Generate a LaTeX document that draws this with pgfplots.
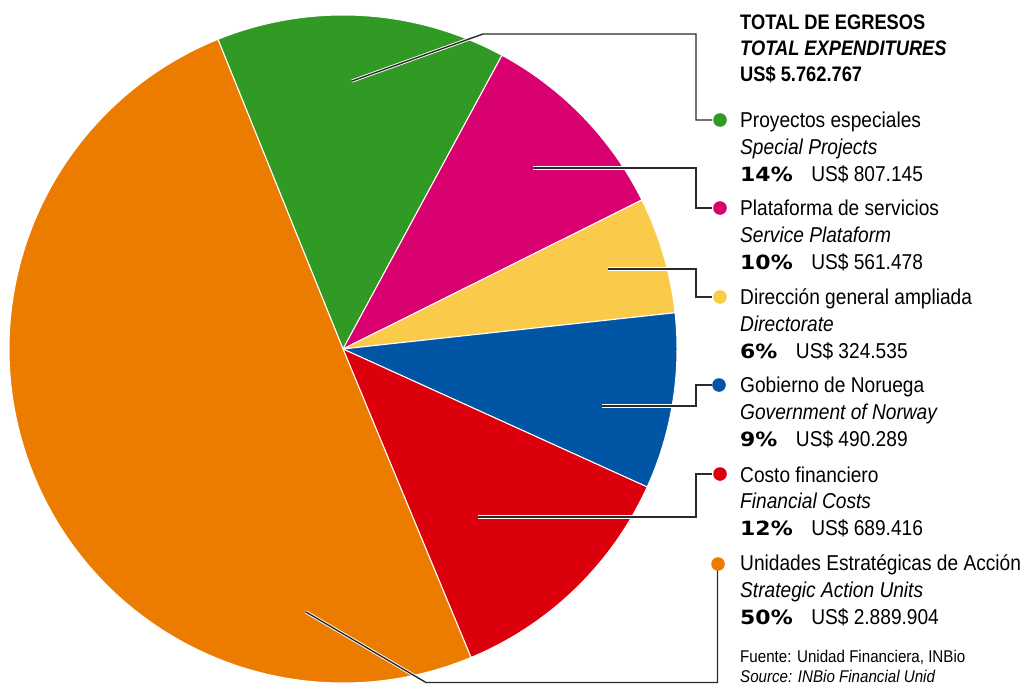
\documentclass[border=0pt]{standalone}
\usepackage{pgfplots}
\pgfplotsset{compat=1.18}
\usepackage{pgfplotstable}
\usepackage{fontspec}
\setmainfont{Liberation Sans}
\newfontfamily\bodyfont{Liberation Sans}[FakeStretch=0.89]
\newfontfamily\titlefont{Liberation Sans}[FakeStretch=0.87]
\newfontfamily\pctfont{DejaVu Sans}[FakeStretch=1.12]

\definecolor{cgreen}{HTML}{319A24}
\definecolor{cmag}{HTML}{D90070}
\definecolor{cyel}{HTML}{FACB4A}
\definecolor{cblue}{HTML}{0055A4}
\definecolor{cred}{HTML}{DC000D}
\definecolor{corange}{HTML}{EC7C00}
\definecolor{cline}{HTML}{2A2A2A}

\pgfplotstableread{
slice value
Proyectos 807145
Plataforma 561478
Direccion 324535
Noruega 490289
Costo 689416
Unidades 2889904
}\expdata

\newcommand\nm[1]{{\bodyfont\fontsize{21.5bp}{26bp}\selectfont #1}}
\newcommand\en[1]{{\bodyfont\itshape\fontsize{21.5bp}{26bp}\selectfont #1}}
\newcommand\pv[2]{{\pctfont\bfseries\fontsize{19.6bp}{24bp}\selectfont #1\%}\hspace{18.5bp}{\bodyfont\fontsize{21.5bp}{26bp}\selectfont US\$ #2}}
\newcommand\ttl[1]{{\titlefont\bfseries\fontsize{21bp}{26bp}\selectfont #1}}
\newcommand\src[1]{{\bodyfont\fontsize{17bp}{20bp}\selectfont #1}}

\begin{document}
\begin{tikzpicture}
\pgfplotstablegetelem{0}{value}\of\expdata\edef\vA{\pgfplotsretval}
\pgfplotstablegetelem{1}{value}\of\expdata\edef\vB{\pgfplotsretval}
\pgfplotstablegetelem{2}{value}\of\expdata\edef\vC{\pgfplotsretval}
\pgfplotstablegetelem{3}{value}\of\expdata\edef\vD{\pgfplotsretval}
\pgfplotstablegetelem{4}{value}\of\expdata\edef\vE{\pgfplotsretval}
\pgfplotstablegetelem{5}{value}\of\expdata\edef\vF{\pgfplotsretval}
\edef\tot{\fpeval{\vA+\vB+\vC+\vD+\vE+\vF}}
\edef\bA{112}
\edef\bB{\fpeval{round(\bA-\vA/\tot*360,4)}}
\edef\bC{\fpeval{round(\bB-\vB/\tot*360,4)}}
\edef\bD{\fpeval{round(\bC-\vC/\tot*360,4)}}
\edef\bE{\fpeval{round(\bD-\vD/\tot*360,4)}}
\edef\bF{\fpeval{round(\bE-\vE/\tot*360,4)}}
\edef\bG{\fpeval{round(\bF-\vF/\tot*360,4)}}
\begin{axis}[name=ax, width=1026bp, height=684bp, scale only axis,
  xmin=0, xmax=1026, ymin=0, ymax=684, y dir=reverse,
  hide axis, clip=false]
\addplot[fill=cgreen, draw=white, line width=1bp, domain=\bB:\bA, samples=80, variable=\t]
  ({343+334*cos(\t)},{349-334*sin(\t)}) -- (axis cs:343,349) -- cycle;
\addplot[fill=cmag, draw=white, line width=1bp, domain=\bC:\bB, samples=80, variable=\t]
  ({343+334*cos(\t)},{349-334*sin(\t)}) -- (axis cs:343,349) -- cycle;
\addplot[fill=cyel, draw=white, line width=1bp, domain=\bD:\bC, samples=60, variable=\t]
  ({343+334*cos(\t)},{349-334*sin(\t)}) -- (axis cs:343,349) -- cycle;
\addplot[fill=cblue, draw=white, line width=1bp, domain=\bE:\bD, samples=60, variable=\t]
  ({343+334*cos(\t)},{349-334*sin(\t)}) -- (axis cs:343,349) -- cycle;
\addplot[fill=cred, draw=white, line width=1bp, domain=\bF:\bE, samples=80, variable=\t]
  ({343+334*cos(\t)},{349-334*sin(\t)}) -- (axis cs:343,349) -- cycle;
\addplot[fill=corange, draw=white, line width=1bp, domain=\bG:\bF, samples=200, variable=\t]
  ({343+334*cos(\t)},{349-334*sin(\t)}) -- (axis cs:343,349) -- cycle;

% leader lines
\draw[white, line width=3.2bp] (axis cs:352,81) -- (axis cs:483,34) -- (axis cs:696,34) -- (axis cs:696,120) -- (axis cs:712,120);
\draw[cline, line width=1.4bp] (axis cs:352,81) -- (axis cs:483,34) -- (axis cs:696,34) -- (axis cs:696,120) -- (axis cs:712,120);
\draw[white, line width=3.2bp] (axis cs:533,168) -- (axis cs:696,168) -- (axis cs:696,208) -- (axis cs:712,208);
\draw[cline, line width=1.4bp] (axis cs:533,168) -- (axis cs:696,168) -- (axis cs:696,208) -- (axis cs:712,208);
\draw[white, line width=3.2bp] (axis cs:608,269) -- (axis cs:696,269) -- (axis cs:696,297) -- (axis cs:712,297);
\draw[cline, line width=1.4bp] (axis cs:608,269) -- (axis cs:696,269) -- (axis cs:696,297) -- (axis cs:712,297);
\draw[white, line width=3.2bp] (axis cs:602,406) -- (axis cs:696,406) -- (axis cs:696,385) -- (axis cs:712,385);
\draw[cline, line width=1.4bp] (axis cs:602,406) -- (axis cs:696,406) -- (axis cs:696,385) -- (axis cs:712,385);
\draw[white, line width=3.2bp] (axis cs:478,517) -- (axis cs:696,517) -- (axis cs:696,474) -- (axis cs:712,474);
\draw[cline, line width=1.4bp] (axis cs:478,517) -- (axis cs:696,517) -- (axis cs:696,474) -- (axis cs:712,474);
\draw[white, line width=3.2bp] (axis cs:306,612) -- (axis cs:426,682.5) -- (axis cs:717.5,682.5) -- (axis cs:717.5,570);
\draw[cline, line width=1.4bp] (axis cs:306,612) -- (axis cs:426,682.5) -- (axis cs:717.5,682.5) -- (axis cs:717.5,570);

% legend dots
\fill[cgreen] (axis cs:720,120) circle[radius=6.8bp];
\fill[cmag] (axis cs:720,208) circle[radius=6.8bp];
\fill[cyel] (axis cs:720,297) circle[radius=6.8bp];
\fill[cblue] (axis cs:719,385) circle[radius=6.8bp];
\fill[cred] (axis cs:720,474) circle[radius=6.8bp];
\fill[corange] (axis cs:718,564) circle[radius=6.8bp];

% title
\node[anchor=base west, inner sep=0] at (axis cs:740,30) {\ttl{TOTAL DE EGRESOS}};
\node[anchor=base west, inner sep=0] at (axis cs:740,56) {\ttl{\itshape TOTAL EXPENDITURES}};
\node[anchor=base west, inner sep=0] at (axis cs:740,82) {\ttl{US\$ 5.762.767}};

% entries
\node[anchor=base west, inner sep=0] at (axis cs:740,127.5) {\nm{Proyectos especiales}};
\node[anchor=base west, inner sep=0] at (axis cs:740,154.5) {\en{Special Projects}};
\node[anchor=base west, inner sep=0] at (axis cs:740,181.5) {\pv{14}{807.145}};

\node[anchor=base west, inner sep=0] at (axis cs:740,215.5) {\nm{Plataforma de servicios}};
\node[anchor=base west, inner sep=0] at (axis cs:740,242.5) {\en{Service Plataform}};
\node[anchor=base west, inner sep=0] at (axis cs:740,269.5) {\pv{10}{561.478}};

\node[anchor=base west, inner sep=0] at (axis cs:740,304) {\nm{Dirección general ampliada}};
\node[anchor=base west, inner sep=0] at (axis cs:740,331) {\en{Directorate}};
\node[anchor=base west, inner sep=0] at (axis cs:740,358) {\pv{6}{324.535}};

\node[anchor=base west, inner sep=0] at (axis cs:740,392.5) {\nm{Gobierno de Noruega}};
\node[anchor=base west, inner sep=0] at (axis cs:740,419.5) {\en{Government of Norway}};
\node[anchor=base west, inner sep=0] at (axis cs:740,446.5) {\pv{9}{490.289}};

\node[anchor=base west, inner sep=0] at (axis cs:740,482) {\nm{Costo financiero}};
\node[anchor=base west, inner sep=0] at (axis cs:740,508.5) {\en{Financial Costs}};
\node[anchor=base west, inner sep=0] at (axis cs:740,535.5) {\pv{12}{689.416}};

\node[anchor=base west, inner sep=0] at (axis cs:740,570.5) {\nm{Unidades Estratégicas de Acción}};
\node[anchor=base west, inner sep=0] at (axis cs:740,597) {\en{Strategic Action Units}};
\node[anchor=base west, inner sep=0] at (axis cs:740,624) {\pv{50}{2.889.904}};

\node[anchor=base west, inner sep=0] at (axis cs:740,662) {\src{Fuente: Unidad Financiera, INBio}};
\node[anchor=base west, inner sep=0] at (axis cs:740,682) {\src{\itshape Source: INBio Financial Unid}};
\end{axis}
\pgfresetboundingbox
\path (ax.south west) rectangle (ax.north east);
\end{tikzpicture}
\end{document}
